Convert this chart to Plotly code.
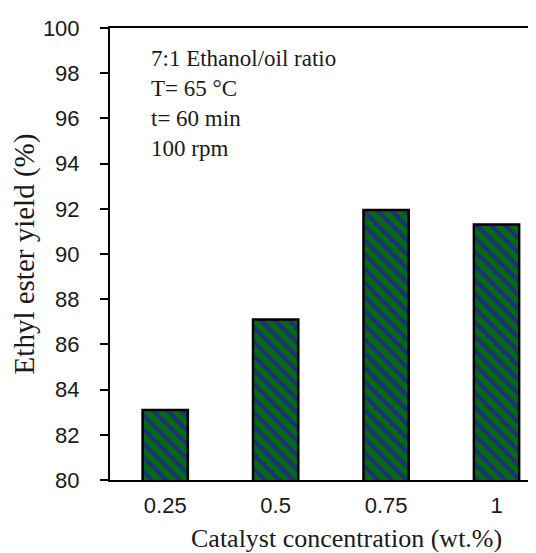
import plotly.graph_objects as go

categories = ["0.25", "0.5", "0.75", "1"]
yield_values = [83.1, 87.1, 91.95, 91.3]
y_ticks = [80, 82, 84, 86, 88, 90, 92, 94, 96, 98, 100]
note_lines = ["7:1 Ethanol/oil ratio", "T= 65 °C", "t= 60 min", "100 rpm"]
x_title = "Catalyst concentration (wt.%)"
y_title = "Ethyl ester yield (%)"

serif = "Liberation Serif, Times New Roman"
sans = "Liberation Sans, Arial"
ink = "#1a1a1a"

fig = go.Figure()
fig.add_trace(go.Bar(
    x=categories,
    y=yield_values,
    width=0.41,
    marker=dict(
        color="#046a14",
        line=dict(color="black", width=2.5),
        pattern=dict(shape="\\", fgcolor="#1b3470", bgcolor="#046a14",
                     fgopacity=1, size=10, solidity=0.45),
    ),
))

fig.update_layout(
    width=536, height=553,
    margin=dict(l=102, r=0, t=20, b=81),
    plot_bgcolor="white", paper_bgcolor="white",
    showlegend=False,
    font=dict(family=sans, color=ink),
)
fig.update_xaxes(
    type="category",
    range=[-0.5, 3.43],
    showline=True, linecolor="black", linewidth=2, mirror=True,
    ticks="", showgrid=False,
    tickfont=dict(family=sans, size=22, color=ink),
    ticklabelstandoff=5,
)
fig.update_yaxes(
    range=[80, 100],
    tickvals=y_ticks,
    showline=True, linecolor="black", linewidth=2,
    ticks="outside", ticklen=8, tickwidth=1.5, tickcolor="black",
    showgrid=False, zeroline=False,
    tickfont=dict(family=sans, size=22, color=ink),
    ticklabelstandoff=16,
    title=dict(text=y_title, font=dict(family=serif, size=29, color=ink), standoff=4),
)

fig.add_annotation(
    xref="paper", yref="paper", x=0.544, y=0, xanchor="center", yanchor="top",
    yshift=-42, text=x_title, showarrow=False,
    font=dict(family=serif, size=26, color=ink),
)

fig.add_annotation(
    xref="paper", yref="paper", x=0.09, y=0.965, xanchor="left", yanchor="top",
    text="<br>".join(note_lines), showarrow=False, align="left",
    font=dict(family=serif, size=23, color=ink),
)

fig.write_html("out.html")
